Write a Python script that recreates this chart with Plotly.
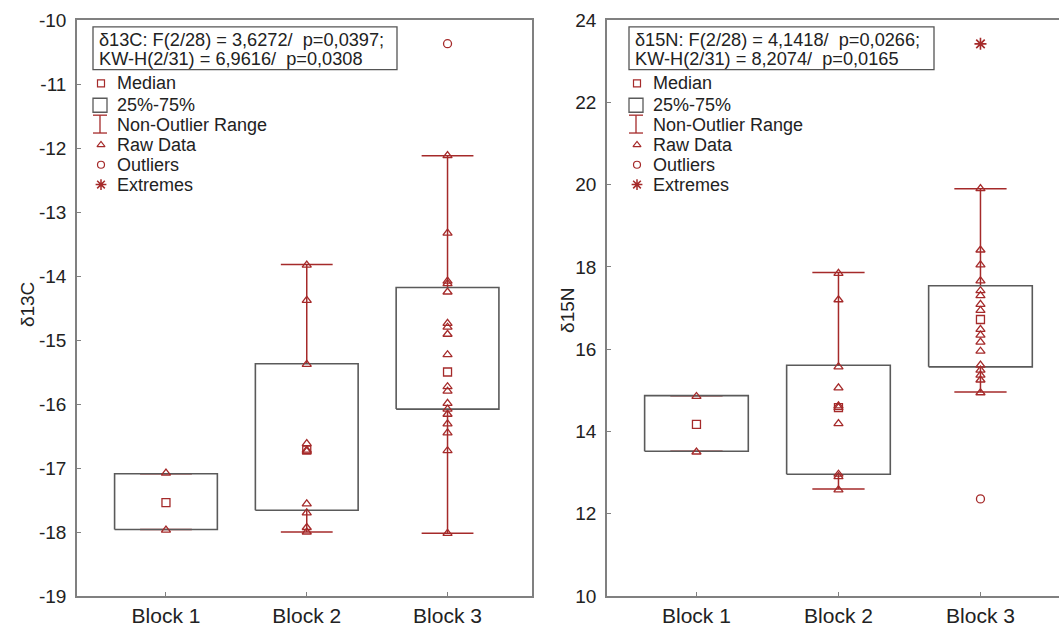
import plotly.graph_objects as go

# ---------------- data ----------------
blocks = ["Block 1", "Block 2", "Block 3"]

# delta13C panel
c_raw = [
    [-17.08, -17.97],
    [-13.83, -14.38, -15.38, -16.62, -16.72, -16.74, -17.56, -17.70, -17.93, -18.00],
    [-12.12, -13.33, -14.08, -14.12, -14.25, -14.74, -14.80, -14.91, -15.23, -15.73,
     -15.80, -15.99, -16.08, -16.16, -16.31, -16.45, -16.73, -18.02],
]
c_median = [-17.54, -16.72, -15.50]
c_q1 = [-17.96, -17.66, -16.08]
c_q3 = [-17.09, -15.37, -14.18]
c_lo = [-17.96, -18.00, -18.02]
c_hi = [-17.09, -13.82, -12.12]
c_outliers = [[], [], [-10.37]]
c_extremes = [[], [], []]

# delta15N panel
n_raw = [
    [14.85, 13.50],
    [17.84, 17.20, 15.57, 15.06, 14.62, 14.58, 14.19, 12.96, 12.90, 12.58],
    [19.90, 18.41, 18.05, 17.66, 17.42, 17.30, 17.09, 16.94, 16.48, 16.34,
     16.17, 15.95, 15.61, 15.49, 15.37, 15.25, 14.94],
]
n_median = [14.17, 14.58, 16.72]
n_q1 = [13.52, 12.96, 15.57]
n_q3 = [14.87, 15.61, 17.54]
n_lo = [13.52, 12.60, 14.96]
n_hi = [14.87, 17.86, 19.90]
n_outliers = [[], [], [12.36]]
n_extremes = [[], [], [23.42]]

c_ticks = list(range(-19, -9))
c_ticktext = [str(v) for v in c_ticks]
n_ticks = list(range(10, 25, 2))
n_ticktext = [str(v) for v in n_ticks]

c_stats = ["δ13C: F(2/28) = 3,6272/\u00a0 p=0,0397;", "KW-H(2/31) = 6,9616/\u00a0 p=0,0308"]
n_stats = ["δ15N: F(2/28) = 4,1418/\u00a0 p=0,0266;", "KW-H(2/31) = 8,2074/\u00a0 p=0,0165"]
legend_labels = ["Median", "25%-75%", "Non-Outlier Range", "Raw Data", "Outliers", "Extremes"]

# ---------------- style ----------------
RED = "#a52a2a"
BOXC = "#5a5a5a"
AXC = "#808080"
TXT = "#222222"
FONT = "Liberation Sans, Arial, sans-serif"
BOX_HW = 0.365
CAP_HW = 0.184

fig = go.Figure()


def add_panel(raw, med, q1, q3, lo, hi, outl, extr, xa, ya):
    # whiskers
    wx, wy = [], []
    for i in range(len(blocks)):
        wx += [i, i, None, i, i, None, i - CAP_HW, i + CAP_HW, None, i - CAP_HW, i + CAP_HW, None]
        wy += [q3[i], hi[i], None, q1[i], lo[i], None, hi[i], hi[i], None, lo[i], lo[i], None]
    fig.add_trace(go.Scatter(x=wx, y=wy, mode="lines", line=dict(color=RED, width=1.5),
                             xaxis=xa, yaxis=ya, showlegend=False, hoverinfo="skip"))
    # boxes
    bx, by = [], []
    for i in range(len(blocks)):
        bx += [i - BOX_HW, i + BOX_HW, i + BOX_HW, i - BOX_HW, i - BOX_HW, None]
        by += [q1[i], q1[i], q3[i], q3[i], q1[i], None]
    fig.add_trace(go.Scatter(x=bx, y=by, mode="lines", line=dict(color=BOXC, width=1.6),
                             xaxis=xa, yaxis=ya, showlegend=False, hoverinfo="skip"))
    # raw data
    rx, ry = [], []
    for i, vals in enumerate(raw):
        rx += [i] * len(vals)
        ry += vals
    fig.add_trace(go.Scatter(x=rx, y=ry, mode="markers",
                             marker=dict(symbol="triangle-up-open", size=8, color=RED, line=dict(width=1.3)),
                             xaxis=xa, yaxis=ya, showlegend=False))
    # medians
    fig.add_trace(go.Scatter(x=list(range(len(blocks))), y=med, mode="markers",
                             marker=dict(symbol="square-open", size=8, color=RED, line=dict(width=1.3)),
                             xaxis=xa, yaxis=ya, showlegend=False))
    # outliers
    ox, oy = [], []
    for i, vals in enumerate(outl):
        ox += [i] * len(vals)
        oy += vals
    fig.add_trace(go.Scatter(x=ox, y=oy, mode="markers",
                             marker=dict(symbol="circle-open", size=8, color=RED, line=dict(width=1.3)),
                             xaxis=xa, yaxis=ya, showlegend=False))
    # extremes
    ex, ey = [], []
    for i, vals in enumerate(extr):
        ex += [i] * len(vals)
        ey += vals
    fig.add_trace(go.Scatter(x=ex, y=ey, mode="markers",
                             marker=dict(symbol="asterisk-open", size=10, color=RED, line=dict(width=1.6)),
                             xaxis=xa, yaxis=ya, showlegend=False))


add_panel(c_raw, c_median, c_q1, c_q3, c_lo, c_hi, c_outliers, c_extremes, "x", "y")
add_panel(n_raw, n_median, n_q1, n_q3, n_lo, n_hi, n_outliers, n_extremes, "x2", "y2")

# ---------------- legends (overlay axis covering the plot area, 0..1) ----------------
W, H = 1059, 627
PT, PB = 20, 601
def px(x):
    return x / W
def py(y):
    return (PB - y) / (PB - PT)

rows = [84, 106, 126, 146, 166, 186]
annotations = []
shapes = []
for mx, tx, bx0, bx1, stats in [(101, 115, 93, 397, c_stats), (637, 651, 629, 934, n_stats)]:
    # stats box
    shapes.append(dict(type="rect", xref="paper", yref="paper", x0=px(bx0), x1=px(bx1),
                       y0=py(70), y1=py(27), line=dict(color="#555555", width=1.3)))
    for k, (line_txt, ly) in enumerate(zip(stats, [40, 59])):
        annotations.append(dict(xref="paper", yref="paper", x=px(bx0 + 4), y=py(ly), text=line_txt,
                                showarrow=False, xanchor="left", yanchor="middle",
                                font=dict(family=FONT, size=18.2, color=TXT)))
    for lab, ry in zip(legend_labels, rows):
        annotations.append(dict(xref="paper", yref="paper", x=px(tx), y=py(ry), text=lab,
                                showarrow=False, xanchor="left", yanchor="middle",
                                font=dict(family=FONT, size=18, color=TXT)))
    # markers
    fig.add_trace(go.Scatter(x=[px(mx)], y=[py(rows[0])], mode="markers",
                             marker=dict(symbol="square-open", size=7, color=RED, line=dict(width=1.2)),
                             xaxis="x3", yaxis="y3", showlegend=False, hoverinfo="skip"))
    fig.add_trace(go.Scatter(x=[px(mx - 1)], y=[py(rows[1])], mode="markers",
                             marker=dict(symbol="square-open", size=14, color=BOXC, line=dict(width=1.3)),
                             xaxis="x3", yaxis="y3", showlegend=False, hoverinfo="skip"))
    ix = px(mx - 1)
    hw = 7 / W
    fig.add_trace(go.Scatter(x=[ix, ix, None, ix - hw, ix + hw, None, ix - hw, ix + hw],
                             y=[py(116), py(134), None, py(116), py(116), None, py(134), py(134)],
                             mode="lines", line=dict(color=RED, width=1.3),
                             xaxis="x3", yaxis="y3", showlegend=False, hoverinfo="skip"))
    fig.add_trace(go.Scatter(x=[px(mx)], y=[py(rows[3])], mode="markers",
                             marker=dict(symbol="triangle-up-open", size=7, color=RED, line=dict(width=1.2)),
                             xaxis="x3", yaxis="y3", showlegend=False, hoverinfo="skip"))
    fig.add_trace(go.Scatter(x=[px(mx)], y=[py(rows[4])], mode="markers",
                             marker=dict(symbol="circle-open", size=7, color=RED, line=dict(width=1.2)),
                             xaxis="x3", yaxis="y3", showlegend=False, hoverinfo="skip"))
    fig.add_trace(go.Scatter(x=[px(mx)], y=[py(rows[5])], mode="markers",
                             marker=dict(symbol="asterisk-open", size=9, color=RED, line=dict(width=1.5)),
                             xaxis="x3", yaxis="y3", showlegend=False, hoverinfo="skip"))

# axis titles
annotations.append(dict(xref="paper", yref="paper", x=px(27), y=0.505, text="δ13C", textangle=-90,
                        showarrow=False, xanchor="center", yanchor="middle",
                        font=dict(family=FONT, size=19, color=TXT)))
annotations.append(dict(xref="paper", yref="paper", x=px(568), y=0.495, text="δ15N", textangle=-90,
                        showarrow=False, xanchor="center", yanchor="middle",
                        font=dict(family=FONT, size=19, color=TXT)))

axis_common = dict(showline=True, linecolor=AXC, linewidth=1.6, ticks="inside", ticklen=4,
                   tickcolor=AXC, tickwidth=1, showgrid=False, zeroline=False, fixedrange=True,
                   tickfont=dict(family=FONT, size=19, color=TXT))

fig.update_layout(
    width=W, height=H,
    margin=dict(l=0, r=0, t=PT, b=H - PB),
    paper_bgcolor="white", plot_bgcolor="rgba(0,0,0,0)",
    showlegend=False,
    xaxis=dict(axis_common, domain=[px(77), px(532)], range=[-0.632, 2.6], mirror=True,
               tickvals=[0, 1, 2], ticktext=blocks, anchor="y",
               tickfont=dict(family=FONT, size=21, color=TXT)),
    yaxis=dict(axis_common, domain=[0, 1], range=[-19, -10], mirror=True,
               tickvals=c_ticks, ticktext=c_ticktext, anchor="x", ticklabelstandoff=5),
    xaxis2=dict(axis_common, domain=[px(607), 1.0], range=[-0.63, 2.553], mirror=True,
                tickvals=[0, 1, 2], ticktext=blocks, anchor="y2",
                tickfont=dict(family=FONT, size=21, color=TXT)),
    yaxis2=dict(axis_common, domain=[0, 1], range=[10, 24], mirror=False,
                tickvals=n_ticks, ticktext=n_ticktext, anchor="x2", ticklabelstandoff=5),
    xaxis3=dict(domain=[0, 1], range=[0, 1], visible=False, anchor="y3", fixedrange=True),
    yaxis3=dict(domain=[0, 1], range=[0, 1], visible=False, anchor="x3", fixedrange=True),
    annotations=annotations,
    shapes=shapes,
)

fig.write_html("out.html", config={"displayModeBar": False},
               post_script="document.body.style.margin='0';document.body.style.overflow='hidden';")
